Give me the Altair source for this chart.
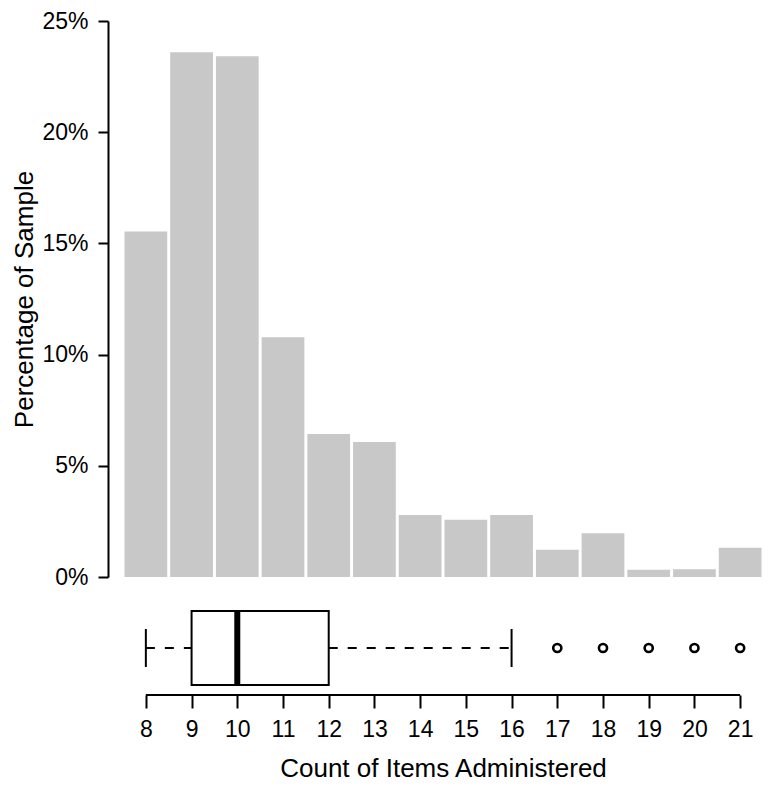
import altair as alt
import pandas as pd

# ---- data ----
items = [8, 9, 10, 11, 12, 13, 14, 15, 16, 17, 18, 19, 20, 21]
pct = [15.54, 23.6, 23.41, 10.78, 6.43, 6.07, 2.79, 2.57, 2.79, 1.22, 1.97, 0.33, 0.35, 1.31]
y_ticks = [0, 5, 10, 15, 20, 25]
x_ticks = [8, 9, 10, 11, 12, 13, 14, 15, 16, 17, 18, 19, 20, 21]
box_lo, box_q1, box_med, box_q3, box_hi = 8, 9, 10, 12, 16
outliers = [17, 18, 19, 20, 21]

FONT = "Liberation Sans"
W = 640
H_TOP = 556
H_BOX = 94
LW = 2
TICK_FS = 23
TITLE_FS = 26

hist_df = pd.DataFrame({"items": items, "pct": pct})
hist = alt.Chart(hist_df).mark_bar(color="#c8c8c8").encode(
    x=alt.X("items:O", scale=alt.Scale(paddingInner=0.065, paddingOuter=0.0325), axis=None),
    y=alt.Y(
        "pct:Q",
        scale=alt.Scale(domain=[0, 25], nice=False),
        axis=alt.Axis(
            values=y_ticks,
            labelExpr="datum.value + '%'",
            title="Percentage of Sample",
            offset=15,
            tickSize=10,
            tickWidth=LW,
            tickColor="black",
            domainColor="black",
            domainWidth=LW,
            labelFont=FONT,
            labelFontSize=TICK_FS,
            labelColor="black",
            labelPadding=10,
            titleFont=FONT,
            titleFontSize=TITLE_FS,
            titleFontWeight="normal",
            titleColor="black",
            titlePadding=4,
            grid=False,
        ),
    ),
).properties(width=W, height=H_TOP)

xscale = alt.Scale(domain=[7.5, 21.5], nice=False, zero=False)
xaxis = alt.Axis(
    values=x_ticks,
    domain=False,
    grid=False,
    tickSize=13,
    tickWidth=LW,
    tickColor="black",
    labelFont=FONT,
    labelFontSize=TICK_FS,
    labelColor="black",
    labelPadding=10,
    title="Count of Items Administered",
    titleFont=FONT,
    titleFontSize=TITLE_FS,
    titleFontWeight="normal",
    titleColor="black",
    titlePadding=14,
)

box_df = pd.DataFrame({
    "grp": ["a"], "lo": [box_lo], "q1": [box_q1], "med": [box_med],
    "q3": [box_q3], "hi": [box_hi],
})
out_df = pd.DataFrame({"grp": ["a"] * len(outliers), "v": outliers})
axis_df = pd.DataFrame({"a": [min(x_ticks)], "b": [max(x_ticks)]})

ysc = alt.Y("grp:N", axis=None, scale=alt.Scale(paddingInner=0, paddingOuter=0))
base = alt.Chart(box_df)

whisk_lo = base.mark_rule(color="black", strokeWidth=LW, strokeDash=[9, 10]).encode(
    x=alt.X("lo:Q", scale=xscale, axis=xaxis), x2="q1:Q", y=ysc)
whisk_hi = base.mark_rule(color="black", strokeWidth=LW, strokeDash=[9, 10]).encode(
    x=alt.X("q3:Q", scale=xscale), x2="hi:Q", y=ysc)
box = base.mark_bar(fill="white", stroke="black", strokeWidth=LW, size=74).encode(
    x=alt.X("q1:Q", scale=xscale), x2="q3:Q", y=ysc)
median = base.mark_tick(color="black", thickness=6, size=74, opacity=1).encode(
    x=alt.X("med:Q", scale=xscale), y=ysc)
cap_lo = base.mark_tick(color="black", thickness=LW, size=38, opacity=1).encode(
    x=alt.X("lo:Q", scale=xscale), y=ysc)
cap_hi = base.mark_tick(color="black", thickness=LW, size=38, opacity=1).encode(
    x=alt.X("hi:Q", scale=xscale), y=ysc)
pts = alt.Chart(out_df).mark_point(shape="circle", filled=False, color="black",
                                   size=66, strokeWidth=2.6, opacity=1).encode(
    x=alt.X("v:Q", scale=xscale), y=ysc)
axis_line = alt.Chart(axis_df).mark_rule(color="black", strokeWidth=LW).encode(
    x=alt.X("a:Q", scale=xscale), x2="b:Q", y=alt.value(H_BOX))

boxchart = alt.layer(whisk_lo, whisk_hi, box, median, cap_lo, cap_hi, pts, axis_line).properties(
    width=W, height=H_BOX)

chart = alt.vconcat(hist, boxchart, spacing=12).resolve_scale(x="independent").properties(
    padding={"left": 3, "top": 2, "right": 0, "bottom": 0}, background="white"
).configure_view(stroke=None)

chart.save("out.html", embed_options={"renderer": "svg", "actions": False})
